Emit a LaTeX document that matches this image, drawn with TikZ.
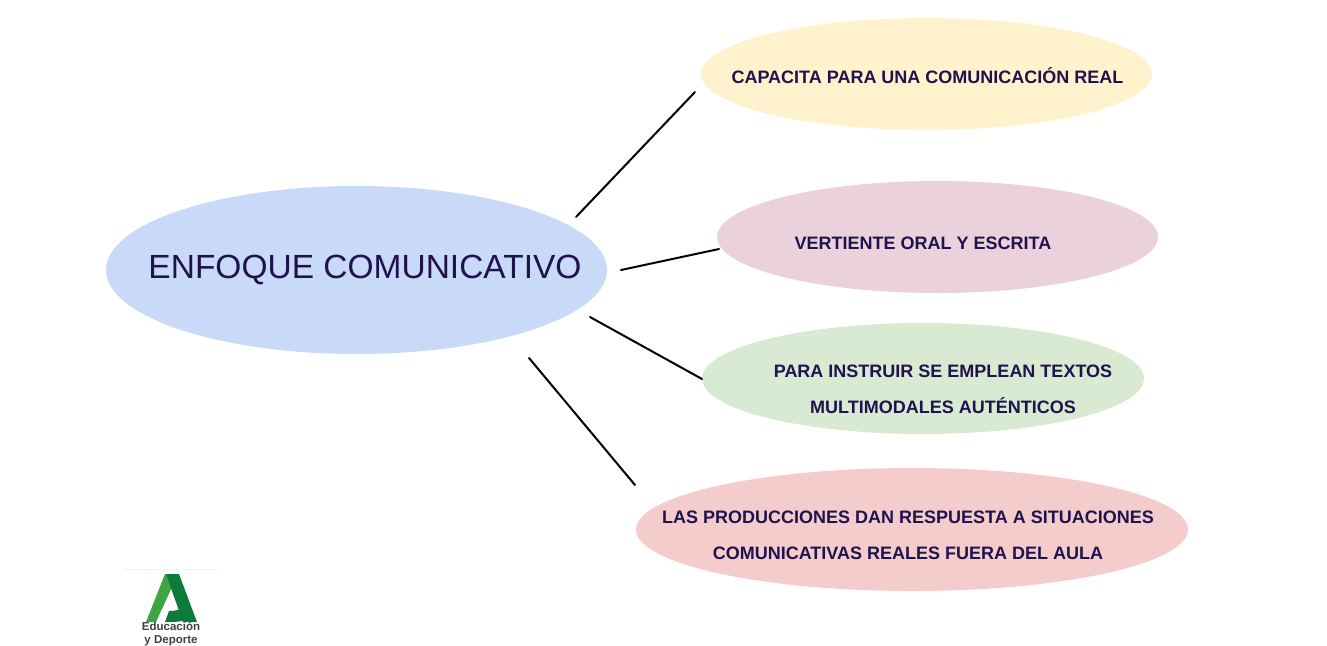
\documentclass[tikz,border=0pt]{standalone}
\usepackage{fontspec}
\setmainfont{Liberation Sans}
\usetikzlibrary{shapes.geometric}
\definecolor{ink}{HTML}{20124D}
\definecolor{cmain}{HTML}{C9DAF8}
\definecolor{cyellow}{HTML}{FFF2CC}
\definecolor{cpink}{HTML}{EAD1DC}
\definecolor{cgreen}{HTML}{D9EAD3}
\definecolor{cred}{HTML}{F4CCCC}
\definecolor{logolight}{HTML}{3DA542}
\definecolor{logodark}{HTML}{0B7A3B}
\tikzset{
  oval/.style={ellipse,inner sep=0pt,outer sep=0pt},
  maintext/.style={text=ink,font=\fontsize{33.5}{36}\selectfont,inner sep=0pt},
  smalltext/.style={text=ink,font=\fontsize{18}{36}\bfseries\selectfont,align=center,inner sep=0pt},
  link/.style={draw=black,line width=2pt,line cap=round},
  logotext/.style={text=black!75,font=\fontsize{11.5}{13}\bfseries\selectfont,align=center,inner sep=0pt}
}
\begin{document}
\begin{tikzpicture}[x=1pt,y=-1pt]
\useasboundingbox (0,0) rectangle (1327,645);
\node[oval,fill=cmain,minimum width=501pt,minimum height=168pt] (main) at (356.5,270) {};
\node[oval,fill=cyellow,minimum width=451pt,minimum height=112pt] (e1) at (926.5,74) {};
\node[oval,fill=cpink,minimum width=441pt,minimum height=112pt] (e2) at (937.5,237) {};
\node[oval,fill=cgreen,minimum width=442pt,minimum height=111pt] (e3) at (923,378.5) {};
\node[oval,fill=cred,minimum width=552pt,minimum height=123pt] (e4) at (912,529.5) {};
\node[maintext] (tmain) at (365,270) {ENFOQUE COMUNICATIVO};
\node[smalltext] (t1) at (927.5,76) {CAPACITA PARA UNA COMUNICACIÓN REAL};
\node[smalltext] (t2) at (923,243) {VERTIENTE ORAL Y ESCRITA};
\node[smalltext] (t3) at (943,389) {PARA INSTRUIR SE EMPLEAN TEXTOS\\MULTIMODALES AUTÉNTICOS};
\node[smalltext] (t4) at (908,535) {LAS PRODUCCIONES DAN RESPUESTA A SITUACIONES\\COMUNICATIVAS REALES FUERA DEL AULA};
\coordinate (a1) at (576,217); \coordinate (b1) at (695,92);
\coordinate (a2) at (621,270); \coordinate (b2) at (719,249);
\coordinate (a3) at (590,317); \coordinate (b3) at (702,379);
\coordinate (a4) at (529,358); \coordinate (b4) at (635,485);
\draw[link] (a1) -- (b1);
\draw[link] (a2) -- (b2);
\draw[link] (a3) -- (b3);
\draw[link] (a4) -- (b4);
% logo
\draw[black!6,line width=1pt] (123,569.5) -- (218,569.5);
\fill[logolight] (165,574) -- (178,574) -- (156,622) -- (146,622) -- cycle;
\fill[logodark] (166,574) -- (179,574) -- (197,622) -- (183,622) -- cycle;
\fill[logodark] (169,611) .. controls (175,611) and (181,610) .. (186,606) -- (191,618) .. controls (183,622) and (175,622) .. (165,622) -- cycle;
\node[logotext] (logo) at (171,634) {Educación\\y Deporte};
\end{tikzpicture}
\end{document}
